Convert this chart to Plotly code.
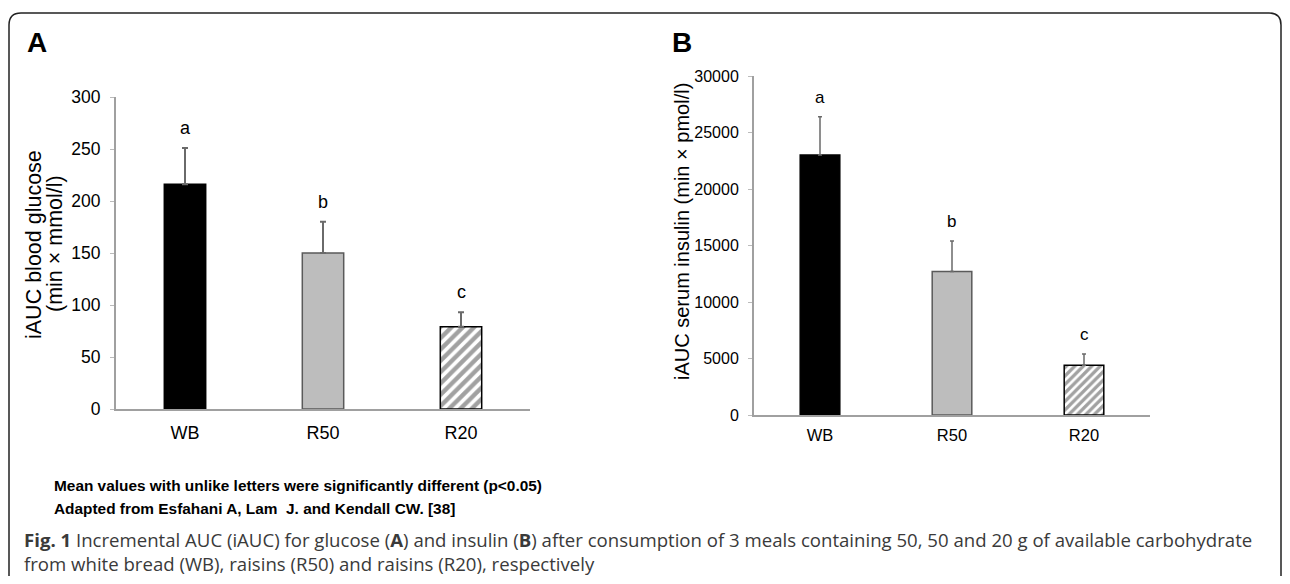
import plotly.graph_objects as go

# Page body has an 8px margin; figure is sized so the page fits the 1290x584 window.
OFF = 8
W, H = 1290 - 2 * OFF, 584 - 2 * OFF

categories = ["WB", "R50", "R20"]
glucose_mean = [216, 150, 79]
glucose_err = [35, 30, 14]
glucose_letters = ["a", "b", "c"]
insulin_mean = [23000, 12700, 4400]
insulin_err = [3400, 2700, 1000]
insulin_letters = ["a", "b", "c"]
glucose_ticks = [0, 50, 100, 150, 200, 250, 300]
insulin_ticks = [0, 5000, 10000, 15000, 20000, 25000, 30000]

fills = ["black", "#bdbdbd", "white"]
lines = ["black", "#5a5a5a", "black"]
patterns = ["", "", "/"]

FONT = "Liberation Sans, Arial, sans-serif"

def px(x):
    return (x - OFF) / W

def py(y):
    return 1 - (y - OFF) / H

fig = go.Figure()

def add_bars(vals, errs, xa, ya, ew, et, psize):
    fig.add_trace(go.Bar(
        x=categories, y=vals, width=0.30,
        marker=dict(color=fills, line=dict(color=lines, width=1.5),
                    pattern=dict(shape=patterns, fgcolor="black", bgcolor="white",
                                 size=psize, solidity=0.55)),
        error_y=dict(type="data", symmetric=False, array=errs,
                     arrayminus=[0] * len(errs), color="#6a6a6a",
                     thickness=et, width=ew),
        xaxis=xa, yaxis=ya, showlegend=False, hoverinfo="skip"))

add_bars(glucose_mean, glucose_err, "x", "y", 3, 2, 8)
add_bars(insulin_mean, insulin_err, "x2", "y2", 2, 1.5, 6)

for cat, v, e, l in zip(categories, glucose_mean, glucose_err, glucose_letters):
    fig.add_annotation(x=cat, y=v + e, text=l, xref="x", yref="y", showarrow=False,
                       xanchor="center", yanchor="bottom", yshift=8,
                       font=dict(size=18, color="black", family=FONT))
for cat, v, e, l in zip(categories, insulin_mean, insulin_err, insulin_letters):
    fig.add_annotation(x=cat, y=v + e, text=l, xref="x2", yref="y2", showarrow=False,
                       xanchor="center", yanchor="bottom", yshift=8,
                       font=dict(size=17, color="black", family=FONT))

def axis_common(size):
    return dict(showgrid=False, zeroline=False, linecolor="#a0a0a0", linewidth=2,
                tickfont=dict(size=size, color="black", family=FONT), automargin=False)

fig.update_layout(
    width=W, height=H, margin=dict(l=0, r=0, t=0, b=0, pad=0, autoexpand=False),
    paper_bgcolor="white", plot_bgcolor="white", showlegend=False,
    xaxis=dict(domain=[px(116), px(530)], anchor="y", showline=True, ticks="",
               ticklabelstandoff=6, **axis_common(18)),
    yaxis=dict(domain=[py(409), py(97)], anchor="x", range=[0, 300], tickvals=glucose_ticks,
               ticktext=[str(t) for t in glucose_ticks],
               showline=True, ticks="outside", ticklen=4, tickcolor="#bbbbbb",
               ticklabelstandoff=6, **axis_common(17.5)),
    xaxis2=dict(domain=[px(754), px(1150)], anchor="y2", showline=True, ticks="",
                ticklabelstandoff=4, **axis_common(16.5)),
    yaxis2=dict(domain=[py(415), py(76)], anchor="x2", range=[0, 30000], tickvals=insulin_ticks,
                ticktext=[str(t) for t in insulin_ticks],
                showline=True, ticks="outside", ticklen=4, tickcolor="#bbbbbb",
                ticklabelstandoff=6, **axis_common(16)),
)

def note(x, y, text, size, color="black", family=FONT, xanchor="left", angle=0):
    fig.add_annotation(x=px(x), y=py(y), xref="paper", yref="paper", showarrow=False,
                       xanchor=xanchor, yanchor="middle", text=text, textangle=angle,
                       font=dict(size=size, color=color, family=family))

# Axis titles
note(34, 245, "iAUC blood glucose", 21.5, xanchor="center", angle=-90)
note(55, 244, "(min × mmol/l)", 21.5, xanchor="center", angle=-90)
note(682, 232, "iAUC serum insulin (min × pmol/l)", 20, xanchor="center", angle=-90)

# Panel labels
note(25, 42, "<b>A</b>", 28)
note(670, 42, "<b>B</b>", 28)

# Notes
note(52, 485, "<b>Mean values with unlike letters were significantly different (p&lt;0.05)</b>", 15.4)
note(52, 508, "<b>Adapted from Esfahani A, Lam  J. and Kendall CW. [38]</b>", 15.4)

# Caption
CAP = "Open Sans, Noto Sans, sans-serif"
note(22, 539, "<b>Fig. 1</b> Incremental AUC (iAUC) for glucose (<b>A</b>) and insulin (<b>B</b>) after consumption of 3 meals containing 50, 50 and 20 g of available carbohydrate",
     18.6, color="#3a3a3a", family=CAP)
note(22, 563, "from white bread (WB), raisins (R50) and raisins (R20), respectively",
     18.6, color="#3a3a3a", family=CAP)

# Frame (rounded top corners, open bottom)
r = 12
x0, x1, y0 = 9, 1281, 13
path = (f"M {px(x0)} {py(590)} L {px(x0)} {py(y0 + r)} "
        f"Q {px(x0)} {py(y0)} {px(x0 + r)} {py(y0)} "
        f"L {px(x1 - r)} {py(y0)} Q {px(x1)} {py(y0)} {px(x1)} {py(y0 + r)} "
        f"L {px(x1)} {py(590)}")
fig.add_shape(type="path", path=path, xref="paper", yref="paper",
              line=dict(color="#222222", width=1.5))

fig.write_html("out.html")
